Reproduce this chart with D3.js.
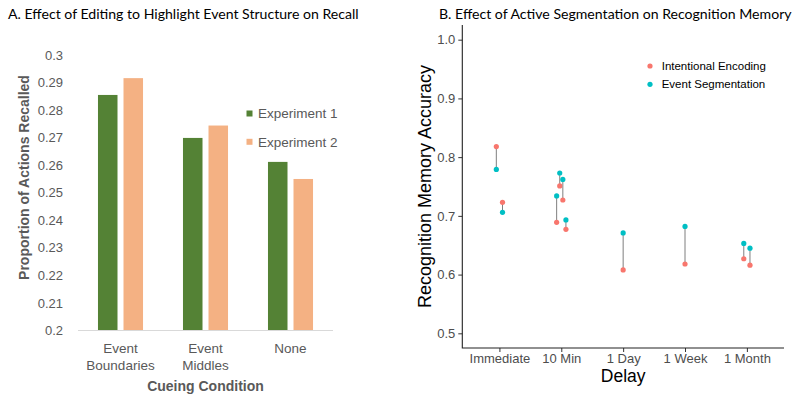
<!DOCTYPE html>
<html><head><meta charset="utf-8">
<script src="https://cdn.jsdelivr.net/npm/d3@7"></script>
<style>body{margin:0;background:#fff}svg{display:block}</style>
</head><body>
<svg id="c" width="800" height="402"></svg>
<script>
// ---- Panel A data ----
const conditions = ["Event Boundaries", "Event Middles", "None"];
const conditionLines = [["Event","Boundaries"],["Event","Middles"],["None"]];
const experiments = ["Experiment 1", "Experiment 2"];
const exp1Values = [0.2855, 0.2699, 0.2612];
const exp2Values = [0.2916, 0.2744, 0.2550];
const yTicksA = ["0.2","0.21","0.22","0.23","0.24","0.25","0.26","0.27","0.28","0.29","0.3"];

// ---- Panel B data ----
const delays = ["Immediate", "10 Min", "1 Day", "1 Week", "1 Month"];
const studyDelay = ["Immediate","Immediate","10 Min","10 Min","10 Min","10 Min","1 Day","1 Week","1 Month","1 Month"];
const intentional = [0.818, 0.723, 0.689, 0.751, 0.727, 0.677, 0.608, 0.618, 0.627, 0.616];
const segmentation = [0.779, 0.706, 0.734, 0.773, 0.762, 0.693, 0.671, 0.682, 0.653, 0.645];
const seriesB = ["Intentional Encoding", "Event Segmentation"];
const yTicksB = ["0.5","0.6","0.7","0.8","0.9","1.0"];

const svg = d3.select("#c");
const titleFont = "Lato, 'Open Sans', sans-serif";
const sans = "'Liberation Sans', Arial, sans-serif";

// ================= Panel A =================
const colA = {"Experiment 1":"#548235","Experiment 2":"#F4B183"};
const gA = svg.append("g");
gA.append("text").attr("x",8).attr("y",18.5).attr("font-family",titleFont).attr("font-size",14.1)
  .attr("fill","#000").text("A. Effect of Editing to Highlight Event Structure on Recall");

const yA = d3.scaleLinear().domain([0.2,0.3]).range([330.5,55]);
const xA = d3.scaleBand().domain(conditions).range([78,333]).paddingInner(0.47).paddingOuter(0.235);
const xSub = d3.scaleBand().domain(experiments).range([0,xA.bandwidth()]).paddingInner(0.235);

gA.selectAll("text.yt").data(yTicksA).join("text").attr("class","yt")
  .attr("x",63).attr("y",d=>yA(+d)).attr("dy","0.35em").attr("text-anchor","end")
  .attr("font-family",sans).attr("font-size",13).attr("fill","#595959").text(d=>d);

const barData = [];
conditions.forEach((c,i)=>{
  barData.push({c, e:"Experiment 1", v:exp1Values[i]});
  barData.push({c, e:"Experiment 2", v:exp2Values[i]});
});
gA.selectAll("rect.bar").data(barData).join("rect").attr("class","bar")
  .attr("x",d=>xA(d.c)+xSub(d.e)).attr("width",xSub.bandwidth())
  .attr("y",d=>yA(d.v)).attr("height",d=>yA(0.2)-yA(d.v)).attr("fill",d=>colA[d.e]);

gA.append("line").attr("x1",78).attr("x2",333).attr("y1",yA(0.2)).attr("y2",yA(0.2))
  .attr("stroke","#d9d9d9").attr("stroke-width",1.2);

conditions.forEach((c,i)=>{
  const t = gA.append("text").attr("x",xA(c)+xA.bandwidth()/2).attr("y",352.5)
    .attr("text-anchor","middle").attr("font-family",sans).attr("font-size",13.5).attr("fill","#595959");
  conditionLines[i].forEach((ln,j)=>t.append("tspan").attr("x",xA(c)+xA.bandwidth()/2).attr("dy",j?17:0).text(ln));
});
gA.append("text").attr("x",205.5).attr("y",391).attr("text-anchor","middle")
  .attr("font-family",sans).attr("font-size",14).attr("font-weight","bold").attr("fill","#595959").text("Cueing Condition");
gA.append("text").attr("transform","translate(29,177.5) rotate(-90)").attr("text-anchor","middle")
  .attr("font-family",sans).attr("font-size",14).attr("font-weight","bold").attr("fill","#595959").text("Proportion of Actions Recalled");

const legA = gA.selectAll("g.leg").data(experiments).join("g").attr("class","leg")
  .attr("transform",(d,i)=>`translate(246.5,${113.5+i*28.3})`);
legA.append("rect").attr("x",0).attr("y",-3).attr("width",6).attr("height",6).attr("fill",d=>colA[d]);
legA.append("text").attr("x",11.5).attr("dy","0.36em").attr("font-family",sans).attr("font-size",13.5)
  .attr("fill","#595959").text(d=>d);

// ================= Panel B =================
const colB = {"Intentional Encoding":"#F8766D","Event Segmentation":"#00BFC4"};
const gB = svg.append("g");
gB.append("text").attr("x",439).attr("y",18.5).attr("font-family",titleFont).attr("font-size",14.1)
  .attr("fill","#000").text("B. Effect of Active Segmentation on Recognition Memory");

const xB = d3.scalePoint().domain(delays).range([462.3,784]).padding(0.6);
const yB = d3.scaleLinear().domain([0.475,1.025]).range([348,25]);
const unit = xB.step();

// dodge within each delay (width 0.2 of a category step)
const counts = {}, idx = [];
studyDelay.forEach(d=>{ counts[d]=(counts[d]||0); idx.push(counts[d]); counts[d]++; });
const pts = studyDelay.map((d,i)=>{
  const inner = d3.scaleBand().domain(d3.range(counts[d])).range([-0.1,0.1]);
  const off = inner(idx[i]) + inner.bandwidth()/2;
  return {x: xB(d) + off*unit, a: intentional[i], b: segmentation[i]};
});

gB.append("g").attr("transform",`translate(462.3,0)`)
  .call(d3.axisLeft(yB).tickValues(yTicksB.map(Number)).tickFormat((d,i)=>yTicksB[i]).tickSize(4).tickPadding(3))
  .call(g=>{ g.select(".domain").remove();
    g.selectAll("line").attr("stroke","#333");
    g.selectAll("text").attr("font-family",sans).attr("font-size",13).attr("fill","#4d4d4d"); });
gB.append("g").attr("transform",`translate(0,348)`)
  .call(d3.axisBottom(xB).tickSize(4).tickPadding(1.5))
  .call(g=>{ g.select(".domain").remove();
    g.selectAll("line").attr("stroke","#333");
    g.selectAll("text").attr("font-family",sans).attr("font-size",13).attr("fill","#4d4d4d"); });
gB.append("path").attr("d",`M462.3,25V348H784`).attr("fill","none").attr("stroke","#222").attr("stroke-width",1.1);

gB.selectAll("line.seg").data(pts).join("line").attr("class","seg")
  .attr("x1",d=>d.x).attr("x2",d=>d.x).attr("y1",d=>yB(d.a)).attr("y2",d=>yB(d.b))
  .attr("stroke","#7f7f7f").attr("stroke-width",1);
gB.selectAll("circle.a").data(pts).join("circle").attr("class","a")
  .attr("cx",d=>d.x).attr("cy",d=>yB(d.a)).attr("r",2.6).attr("fill",colB[seriesB[0]]);
gB.selectAll("circle.b").data(pts).join("circle").attr("class","b")
  .attr("cx",d=>d.x).attr("cy",d=>yB(d.b)).attr("r",2.6).attr("fill",colB[seriesB[1]]);

gB.append("text").attr("x",623.15).attr("y",381.5).attr("text-anchor","middle")
  .attr("font-family",sans).attr("font-size",17.5).attr("fill","#000").text("Delay");
gB.append("text").attr("transform","translate(431,186.5) rotate(-90)").attr("text-anchor","middle")
  .attr("font-family",sans).attr("font-size",18).attr("fill","#000").text("Recognition Memory Accuracy");

const legB = gB.selectAll("g.legb").data(seriesB).join("g").attr("class","legb")
  .attr("transform",(d,i)=>`translate(650,${66+i*18.3})`);
legB.append("circle").attr("r",2.6).attr("fill",d=>colB[d]);
legB.append("text").attr("x",11.7).attr("dy","0.35em").attr("font-family",sans).attr("font-size",11.5)
  .attr("fill","#000").text(d=>d);
</script>
</body></html>
